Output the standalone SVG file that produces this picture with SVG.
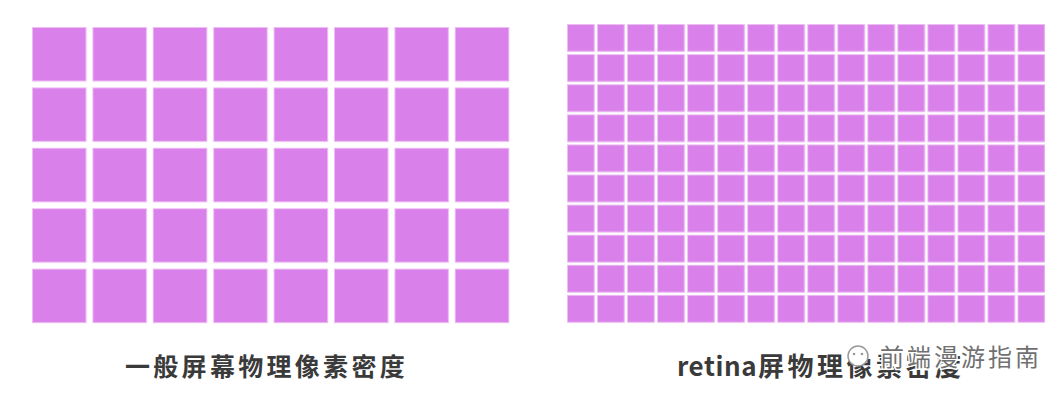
<svg xmlns="http://www.w3.org/2000/svg" width="1061" height="400" viewBox="0 0 1061 400">
  <style>
    .cell { fill: #D980EA; stroke: #EDBDF3; stroke-width: 1; }
    .label { font-family: "Noto Sans CJK SC", "Liberation Sans", sans-serif; font-weight: bold; fill: #3a3a3a; }
    .wm { font-family: "Noto Sans CJK SC", sans-serif; fill: #707070; stroke: #ffffff; stroke-width: 3; paint-order: stroke; }
  </style>
  <defs>
    <pattern id="pBig" patternUnits="userSpaceOnUse" x="32" y="27" width="60.4" height="60.4">
      <rect class="cell" x="0.5" y="0.5" width="53.6" height="53.6"/>
    </pattern>
    <pattern id="pSmall" patternUnits="userSpaceOnUse" x="567" y="24" width="30.03" height="30.1">
      <rect class="cell" x="0.5" y="0.5" width="26.8" height="26.9"/>
    </pattern>
  </defs>
  <rect width="1061" height="400" fill="#ffffff"/>
  <g id="normal-grid">
    <rect x="32" y="27" width="478" height="297" fill="url(#pBig)"/>
  </g>
  <g id="retina-grid">
    <rect x="567" y="24" width="478" height="299" fill="url(#pSmall)"/>
  </g>
  <g id="labels">
    <text class="label" x="125" y="376" font-size="25" letter-spacing="3.3">一般屏幕物理像素密度</text>
    <text class="label" y="376" font-size="26"><tspan x="677" letter-spacing="0.6">retina</tspan><tspan x="758" letter-spacing="3.5">屏物理像素密度</tspan></text>
  </g>
  <g id="watermark">
    <circle cx="858" cy="356" r="10" fill="#ffffff" stroke="#9a9a9a" stroke-width="1.5"/>
    <circle cx="854" cy="354" r="1.3" fill="#9a9a9a"/>
    <circle cx="862" cy="354" r="1.3" fill="#9a9a9a"/>
    <text class="wm" x="880" y="366" font-size="24" letter-spacing="3">前端漫游指南</text>
  </g>
</svg>
